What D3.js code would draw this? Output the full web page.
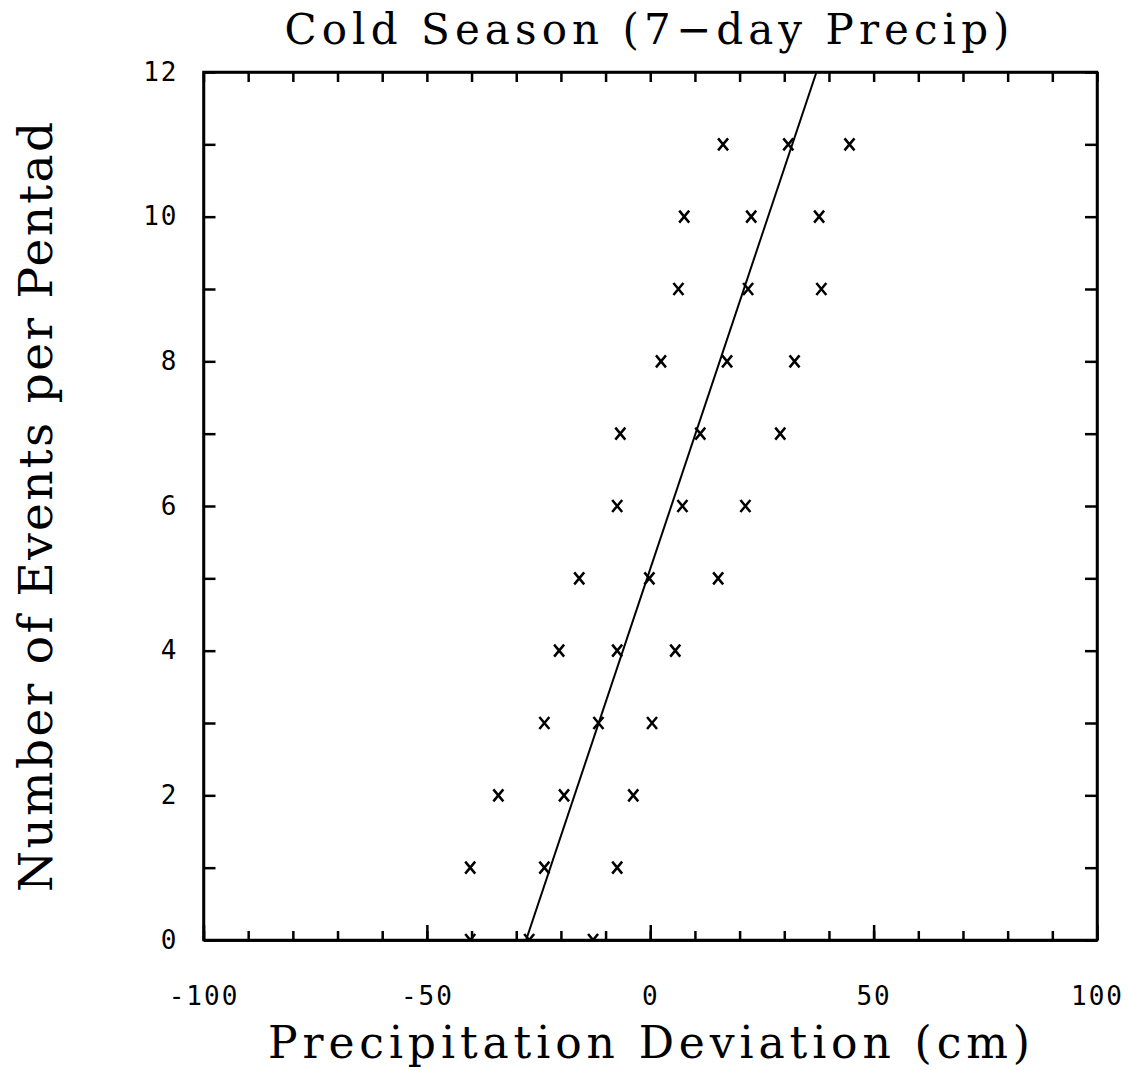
<!DOCTYPE html>
<html>
<head>
<meta charset="utf-8">
<script src="https://d3js.org/d3.v7.min.js"></script>
<style>
  body { margin: 0; background: #fff; }
  .axis path, .axis line { stroke: #000; stroke-width: 2.5; }
  .axis text { font-family: "DejaVu Sans Mono", monospace; font-size: 26px; letter-spacing: 2px; fill: #000; }
  .label { font-family: "DejaVu Serif", serif; fill: #000; }
</style>
</head>
<body>
<div id="chart"></div>
<script>
// events per pentad (row) and the precip deviations read for that row
var eventCounts = [0, 0, 0, 1, 1, 1, 2, 2, 2, 3, 3, 3, 4, 4, 4, 5, 5, 5, 6, 6, 6, 7, 7, 7, 8, 8, 8, 9, 9, 9, 10, 10, 10, 11, 11, 11];
var precipDev = [-40.3, -27.1, -12.8,
                 -40.3, -23.7, -7.4,
                 -34.0, -19.3, -3.8,
                 -23.7, -11.6, 0.4,
                 -20.4, -7.4, 5.6,
                 -15.9, -0.2, 15.2,
                 -7.4, 7.2, 21.3,
                 -6.7, 11.2, 29.1,
                 2.4, 17.2, 32.3,
                 6.3, 21.9, 38.3,
                 7.6, 22.6, 37.8,
                 16.3, 30.9, 44.6];

// fitted line: events = fitIntercept + fitSlope * deviation
var fitIntercept = 5.13;
var fitSlope = 0.1846;

var xMajorTicks = [-100, -50, 0, 50, 100];
var xMinorTicks = d3.range(-100, 101, 10);
var yMajorTicks = [0, 2, 4, 6, 8, 10, 12];
var yMinorTicks = d3.range(0, 13, 1);

var margin = { top: 72, right: 34, bottom: 130, left: 203.5 },
    width = 1131 - margin.left - margin.right,
    height = 1070 - margin.top - margin.bottom;

var svg = d3.select("#chart")
    .append("svg")
    .attr("width", 1131)
    .attr("height", 1070);

var g = svg.append("g")
    .attr("transform", "translate(" + margin.left + "," + margin.top + ")");

var x = d3.scaleLinear().domain([-100, 100]).range([0, width]);
var y = d3.scaleLinear().domain([0, 12]).range([height, 0]);

svg.append("defs").append("clipPath").attr("id", "plot-clip")
    .append("rect").attr("x", 0).attr("y", 0).attr("width", width).attr("height", height);

// minor ticks (inward)
g.append("g").attr("class", "axis")
    .attr("transform", "translate(0," + height + ")")
    .call(d3.axisBottom(x).tickValues(xMinorTicks).tickSize(-9).tickSizeOuter(0).tickFormat(""));
g.append("g").attr("class", "axis")
    .call(d3.axisTop(x).tickValues(xMinorTicks).tickSize(-10).tickSizeOuter(0).tickFormat(""));
g.append("g").attr("class", "axis")
    .attr("transform", "translate(" + width + ",0)")
    .call(d3.axisRight(y).tickValues(yMinorTicks).tickSize(-12).tickSizeOuter(0).tickFormat(""));

// major ticks with labels
g.append("g").attr("class", "axis")
    .attr("transform", "translate(0," + height + ")")
    .call(d3.axisBottom(x).tickValues(xMajorTicks).tickSize(-15).tickSizeOuter(0).tickPadding(47)
        .tickFormat(function (d) { return String(d); }));
g.append("g").attr("class", "axis")
    .call(d3.axisLeft(y).tickValues(yMinorTicks).tickSize(-12).tickSizeOuter(0).tickPadding(25)
        .tickFormat(function (d) { return yMajorTicks.indexOf(d) >= 0 ? String(d) : ""; }));

// frame
g.append("rect")
    .attr("x", 0).attr("y", 0)
    .attr("width", width).attr("height", height)
    .attr("fill", "none").attr("stroke", "#000").attr("stroke-width", 2.5);

// fitted line from y=0 to y=12
var fitLine = [0, 12].map(function (v) { return [(v - fitIntercept) / fitSlope, v]; });
g.append("path")
    .datum(fitLine)
    .attr("fill", "none")
    .attr("stroke", "#000")
    .attr("stroke-width", 2)
    .attr("clip-path", "url(#plot-clip)")
    .attr("d", d3.line().x(function (d) { return x(d[0]); }).y(function (d) { return y(d[1]); }));

// x markers
var points = precipDev.map(function (d, i) { return { dev: d, n: eventCounts[i] }; });
g.append("g")
    .attr("clip-path", "url(#plot-clip)")
    .selectAll(".pt")
    .data(points)
    .enter().append("path")
    .attr("class", "pt")
    .attr("transform", function (d) { return "translate(" + x(d.dev) + "," + y(d.n) + ")"; })
    .attr("d", "M-5,-6L5,6M-5,6L5,-6")
    .attr("stroke", "#000")
    .attr("stroke-width", 2.5)
    .attr("fill", "none");

// titles
svg.append("text")
    .attr("class", "label")
    .attr("x", 647)
    .attr("y", 44)
    .style("text-anchor", "middle")
    .style("font-size", "42px")
    .attr("textLength", 725)
    .attr("lengthAdjust", "spacing")
    .text("Cold Season (7\u2212day Precip)");

svg.append("text")
    .attr("class", "label")
    .attr("x", 649)
    .attr("y", 1058)
    .style("text-anchor", "middle")
    .style("font-size", "44px")
    .attr("textLength", 762)
    .attr("lengthAdjust", "spacing")
    .text("Precipitation Deviation (cm)");

svg.append("text")
    .attr("class", "label")
    .attr("transform", "translate(52,507) rotate(-90)")
    .style("text-anchor", "middle")
    .style("font-size", "47px")
    .attr("textLength", 770)
    .attr("lengthAdjust", "spacing")
    .text("Number of Events per Pentad");
</script>
</body>
</html>
